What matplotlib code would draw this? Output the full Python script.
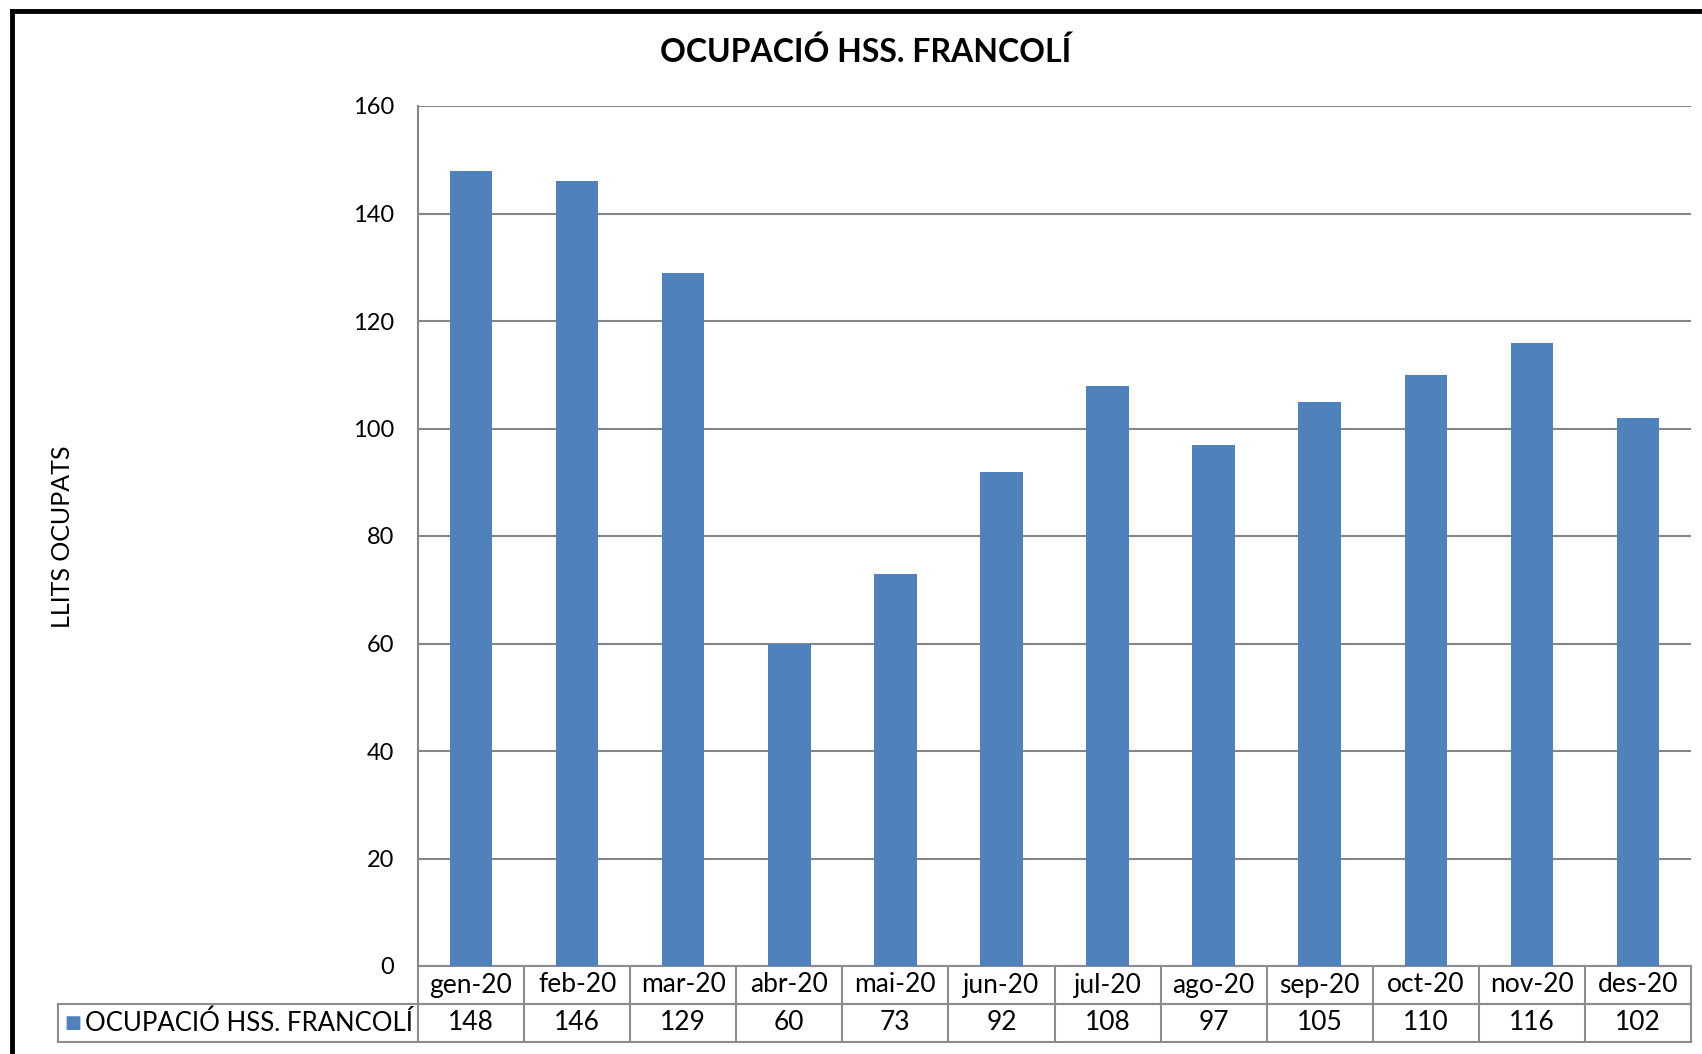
import numpy as np
import matplotlib.pyplot as plt
from matplotlib.lines import Line2D
import matplotlib.transforms as mtransforms

# dades: ocupació mensual HSS Francolí
months = ['gen-20', 'feb-20', 'mar-20', 'abr-20', 'mai-20', 'jun-20',
          'jul-20', 'ago-20', 'sep-20', 'oct-20', 'nov-20', 'des-20']
beds = [148, 146, 129, 60, 73, 92, 108, 97, 105, 110, 116, 102]
series_name = 'OCUPACIÓ HSS. FRANCOLÍ'
yticks = [0, 20, 40, 60, 80, 100, 120, 140, 160]

bar_color = '#4F81BD'
grid_color = '#868686'
font = 'Lato'

W, H = 1702, 1054
fig = plt.figure(figsize=(W / 100, H / 100), dpi=100)
ax = fig.add_axes([418 / W, 1 - 966 / H, (1691 - 418) / W, (966 - 106) / H])

x = np.arange(len(months))
ax.bar(x, beds, width=0.4, color=bar_color, zorder=3)
ax.set_xlim(-0.5, len(months) - 0.5)
ax.set_ylim(0, 160)
ax.set_yticks(yticks)
ax.set_yticklabels([str(t) for t in yticks], fontsize=17, family=font)
ax.tick_params(axis='y', length=0, pad=17)
ax.set_xticks([])
ax.yaxis.grid(True, color=grid_color, lw=1.5, zorder=0)
for s in ['top', 'right', 'bottom']:
    ax.spines[s].set_visible(False)
ax.spines['left'].set_color(grid_color)
ax.spines['left'].set_linewidth(1.5)

# taula de dades sota l'eix
trans = mtransforms.blended_transform_factory(ax.transData, ax.transAxes)
row_h = 38 / (966 - 106)
lc = '#8c8c8c'
lw = 1.5
y0, y1, y2 = 0, -row_h, -2 * row_h
leg_left = (58 - 418) / (1691 - 418)  # en coords d'eix
for yy in [y0, y1]:
    ax.add_line(Line2D([-0.5, len(months) - 0.5], [yy, yy], transform=trans,
                       color=lc, lw=lw, clip_on=False))
ax.add_line(Line2D([leg_left, 1], [y1, y1], transform=ax.transAxes,
                   color=lc, lw=lw, clip_on=False))
ax.add_line(Line2D([leg_left, 1], [y2, y2], transform=ax.transAxes,
                   color=lc, lw=lw, clip_on=False))
ax.add_line(Line2D([leg_left, leg_left], [y1, y2], transform=ax.transAxes,
                   color=lc, lw=lw, clip_on=False))
for i in range(len(months) + 1):
    ax.add_line(Line2D([i - 0.5, i - 0.5], [y0, y2], transform=trans,
                       color=lc, lw=lw, clip_on=False))
for i, (m, v) in enumerate(zip(months, beds)):
    ax.text(i, (y0 + y1) / 2, m, transform=trans, ha='center', va='center',
            fontsize=19, family=font)
    ax.text(i, (y1 + y2) / 2, str(v), transform=trans, ha='center', va='center',
            fontsize=19, family=font)

# etiqueta de la fila amb el quadradet de llegenda
ax.text(leg_left + 0.005, (y1 + y2) / 2, '\u25A0', transform=ax.transAxes,
        ha='left', va='center', fontsize=13, color=bar_color, family='DejaVu Sans')
ax.text(leg_left + 0.021, (y1 + y2) / 2, series_name, transform=ax.transAxes,
        ha='left', va='center', fontsize=18.5, family=font)

fig.text(866 / W, 1 - 52 / H, series_name, ha='center', va='center',
         fontsize=23, fontweight='bold', family=font)
fig.text(62 / W, 1 - 537 / H, 'LLITS OCUPATS', rotation=90, ha='center',
         va='center', fontsize=18, family=font)

# marc negre
fig.add_artist(Line2D([12 / W, 12 / W], [0, 1 - 11 / H], color='black', lw=3.5))
fig.add_artist(Line2D([12 / W, 1], [1 - 11 / H, 1 - 11 / H], color='black', lw=3.5))

fig.savefig('out.png', dpi=100)
